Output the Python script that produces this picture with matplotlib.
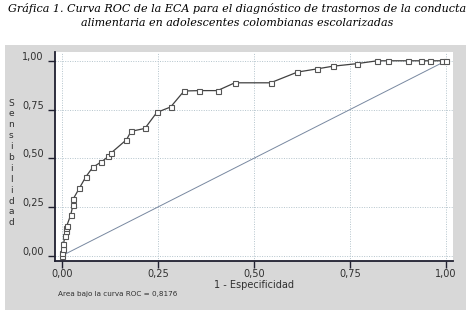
import matplotlib
matplotlib.use("Agg")
import matplotlib.pyplot as plt
from matplotlib.patches import Rectangle
import matplotlib.transforms as mtransforms

# ROC curve points (1 - specificity, sensitivity)
fpr = [0.000, 0.000, 0.002, 0.004, 0.008, 0.010, 0.010, 0.012, 0.023, 0.029, 0.029,
       0.045, 0.062, 0.080, 0.103, 0.121, 0.128, 0.168, 0.180, 0.216, 0.247,
       0.283, 0.318, 0.358, 0.405, 0.450, 0.543, 0.613, 0.663, 0.705, 0.767,
       0.821, 0.849, 0.900, 0.934, 0.957, 0.989, 1.000]
tpr = [0.000, 0.012, 0.035, 0.060, 0.100, 0.125, 0.140, 0.150, 0.210, 0.262, 0.290,
       0.345, 0.404, 0.453, 0.482, 0.509, 0.527, 0.595, 0.638, 0.653, 0.735,
       0.763, 0.845, 0.847, 0.847, 0.887, 0.887, 0.942, 0.958, 0.972, 0.985,
       1.000, 1.000, 1.000, 1.000, 1.000, 1.000, 1.000]
ref_x = [0, 1]
ref_y = [0, 1]
ticks = [0.0, 0.25, 0.50, 0.75, 1.0]
tick_labels = ["0,00", "0,25", "0,50", "0,75", "1,00"]
title = ("Gráfica 1. Curva ROC de la ECA para el diagnóstico de trastornos de la conducta\n"
         "alimentaria en adolescentes colombianas escolarizadas")
xlabel = "1 - Especificidad"
ylabel = "Sensibilidad"
auc_text = "Area bajo la curva ROC = 0,8176"

fig = plt.figure(figsize=(4.74, 3.10), dpi=100)
fig.patch.set_facecolor("white")
bg = Rectangle((5/474, 0), 461/474, 265/310, transform=fig.transFigure,
               facecolor="#d8d8d8", edgecolor="none", zorder=-10)
fig.add_artist(bg)

fig.text(0.5, 1 - 15.5/310, title, ha="center", va="center", family="DejaVu Serif",
         style="italic", fontsize=8.0, linespacing=1.5)

ax = fig.add_axes([55/474, 1 - 261/310, 398/474, 209/310])
ax.set_zorder(1)
ax.set_facecolor("white")
ax.set_xlim(-0.018, 1.018)
ax.set_ylim(-0.027, 1.045)

ax.grid(True, linestyle=(0, (1, 1.5)), color="#b4c4cc", linewidth=0.7)
ax.set_axisbelow(True)

ax.plot(ref_x, ref_y, color="#7888a0", linewidth=0.7, zorder=2)
ax.plot(fpr, tpr, color="#404040", linewidth=0.9, marker="s", markersize=3.6,
        markerfacecolor="white", markeredgecolor="#555555", markeredgewidth=0.8, zorder=3)

for s in ["top", "right"]:
    ax.spines[s].set_visible(False)
for s in ["left", "bottom"]:
    ax.spines[s].set_color("#202030")
    ax.spines[s].set_linewidth(1.3)

ax.set_xticks(ticks)
ax.set_xticklabels(tick_labels, fontsize=7, color="#303030", family="DejaVu Sans")
ax.set_yticks(ticks)
ax.set_yticklabels(tick_labels, fontsize=7, color="#303030", family="DejaVu Sans")
ax.tick_params(axis="both", length=5, width=1.0, color="#202030", pad=3)
ax.tick_params(axis="x", pad=1)
offset = mtransforms.ScaledTranslation(0, 5/100, fig.dpi_scale_trans)
for lab in ax.get_yticklabels():
    lab.set_transform(lab.get_transform() + offset)

fig.text(254/474, 1 - 284.5/310, xlabel, ha="center", va="center", fontsize=7,
         color="#303030", family="DejaVu Sans")

# vertical stacked y label
y0 = 1 - 103/310
for i, ch in enumerate(ylabel):
    fig.text(11/474, y0 - i * 10.9/310, ch, ha="center", va="center",
             fontsize=6.5, color="#303030", family="DejaVu Sans")

fig.text(58/474, 1 - 294/310, auc_text, ha="left", va="center", fontsize=5.2,
         color="#303030", family="DejaVu Sans")

fig.savefig("out.png", dpi=100, facecolor=fig.get_facecolor())
